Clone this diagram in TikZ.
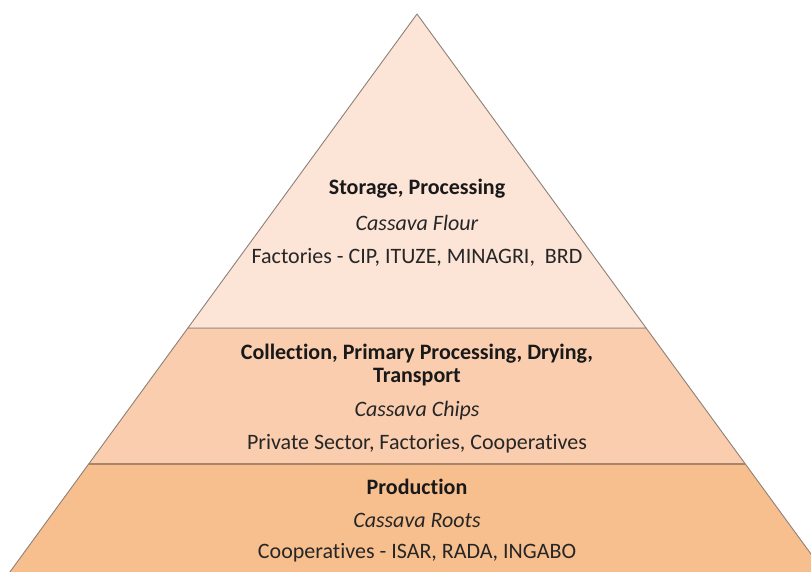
\documentclass[tikz,border=0pt]{standalone}
\usepackage{fontspec}
\setmainfont[Ligatures=NoCommon]{Carlito}
\usetikzlibrary{calc}
\definecolor{tiertop}{HTML}{FCE4D6}
\definecolor{tiermid}{HTML}{F9CDAE}
\definecolor{tierbase}{HTML}{F8BF8E}
\definecolor{edgegray}{HTML}{8E8076}
\definecolor{edgebrown}{HTML}{A88468}
\tikzset{
  tier/.style={draw=edgegray, line width=0.9pt, line join=round},
  head/.style={font=\fontsize{22}{26}\selectfont\bfseries, text=black!90, inner sep=0pt, anchor=center},
  product/.style={font=\fontsize{22}{26}\selectfont\itshape, text=black!85, inner sep=0pt, anchor=center},
  actors/.style={font=\fontsize{22}{26}\selectfont, text=black!85, inner sep=0pt, anchor=center}
}
\begin{document}
\begin{tikzpicture}[x=1pt,y=-1pt]
\useasboundingbox (0,0) rectangle (811,571);
\clip (0,0) rectangle (811,571);
% pyramid outline
\coordinate (apex) at (417,14);
\coordinate (baseL) at (0.4,585);
\coordinate (baseR) at (833.6,585);
\coordinate (midL) at ($(apex)!314/571!(baseL)$);
\coordinate (midR) at ($(apex)!314/571!(baseR)$);
\coordinate (lowL) at ($(apex)!450/571!(baseL)$);
\coordinate (lowR) at ($(apex)!450/571!(baseR)$);
% tiers
\filldraw[tier, fill=tierbase] (lowL) -- (lowR) -- (baseR) -- (baseL) -- cycle;
\filldraw[tier, fill=tiermid] (midL) -- (midR) -- (lowR) -- (lowL) -- cycle;
\filldraw[tier, fill=tiertop] (apex) -- (midR) -- (midL) -- cycle;
\draw[draw=edgebrown, line width=1.6pt] (lowL) -- (lowR);
% top tier text
\node[head] (t1) at (417,189) {Storage, Processing};
\node[product] (t2) at (417,223) {Cassava Flour};
\node[actors] (t3) at (417,257) {Factories - CIP, ITUZE, MINAGRI,\ \ BRD};
% middle tier text
\node[head] (m1) at (417,354) {Collection, Primary Processing, Drying,};
\node[head] (m1b) at (417,377) {Transport};
\node[product] (m2) at (417,411) {Cassava Chips};
\node[actors] (m3) at (417,444) {Private Sector, Factories, Cooperatives};
% base tier text
\node[head] (b1) at (417,487) {Production};
\node[product] (b2) at (417,520) {Cassava Roots};
\node[actors] (b3) at (417,553) {Cooperatives - ISAR, RADA, INGABO};
\end{tikzpicture}
\end{document}
